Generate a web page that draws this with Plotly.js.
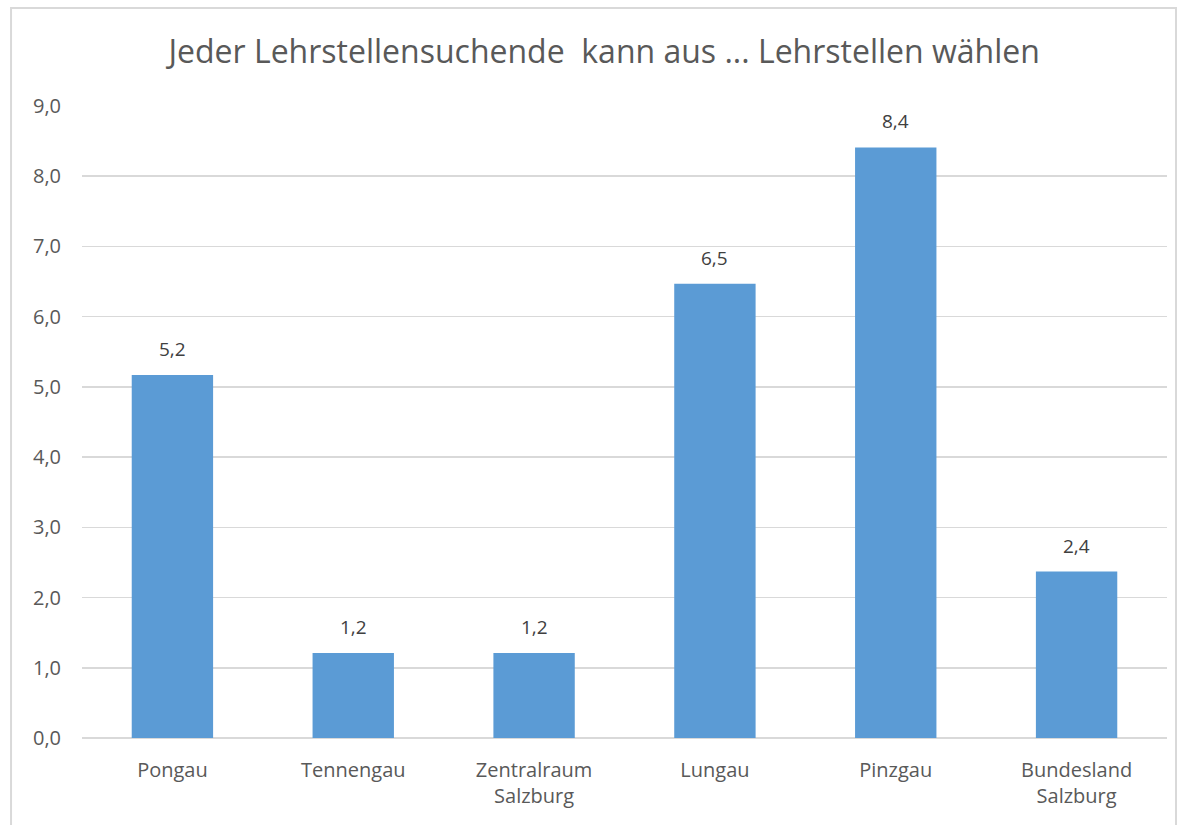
<!DOCTYPE html>
<html>
<head>
<meta charset="utf-8">
<script src="https://cdn.plot.ly/plotly-3.0.1.min.js"></script>
<style>html,body{margin:0;padding:0;background:#fff;}#chart{width:1180px;height:825px;}</style>
</head>
<body>
<div id="chart"></div>
<script>
const categories = ["Pongau", "Tennengau", "Zentralraum<br>Salzburg", "Lungau", "Pinzgau", "Bundesland<br>Salzburg"];
const values = [5.17, 1.21, 1.21, 6.47, 8.41, 2.37];
const labels = ["5,2", "1,2", "1,2", "6,5", "8,4", "2,4"];
const tickVals = [0, 1, 2, 3, 4, 5, 6, 7, 8, 9];

const font = "'Open Sans', sans-serif";
const trace = {
  type: "bar",
  x: categories,
  y: values,
  marker: {color: "#5B9BD5"},
  hoverinfo: "skip"
};
const annotations = categories.map((c, i) => ({
  x: c, y: values[i], xref: "x", yref: "y",
  text: labels[i], showarrow: false, yanchor: "bottom", yshift: 11,
  font: {family: font, size: 19, color: "#404040"}
}));
const layout = {
  width: 1180, height: 825,
  margin: {l: 82, r: 13, t: 106, b: 87},
  paper_bgcolor: "#fff", plot_bgcolor: "#fff",
  separators: ",.",
  showlegend: false,
  bargap: 0.55,
  title: {text: "Jeder Lehrstellensuchende  kann aus ... Lehrstellen wählen", x: 0.512, xref: "container", xanchor: "center", y: 0.937, yref: "container", yanchor: "middle", font: {family: font, size: 32, color: "#595959"}},
  xaxis: {tickfont: {family: font, size: 20, color: "#595959"}, showgrid: false, showline: false, ticks: "", ticklabelstandoff: 18, fixedrange: true},
  yaxis: {range: [0, 9], tickvals: tickVals, tickformat: ".1f", tickfont: {family: font, size: 20, color: "#595959"}, gridcolor: "#d9d9d9", gridwidth: 1.5, zeroline: true, zerolinecolor: "#d9d9d9", zerolinewidth: 1.5, showline: false, ticks: "", ticklabelstandoff: 20, fixedrange: true},
  annotations: annotations,
  shapes: [
    {type: "rect", xref: "paper", yref: "paper", x0: -0.0654, x1: 1.0083, y0: -0.2, y1: 1.155, line: {color: "#d9d9d9", width: 2}, fillcolor: "rgba(0,0,0,0)", layer: "below"}
  ]
};
Plotly.newPlot("chart", [trace], layout, {displayModeBar: false, staticPlot: true});
</script>
</body>
</html>
